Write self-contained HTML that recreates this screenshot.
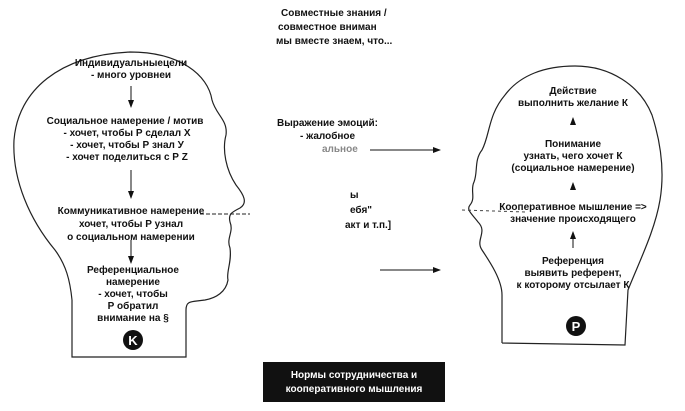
<!DOCTYPE html>
<html><head><meta charset="utf-8"><style>
html,body{margin:0;padding:0;background:#fff}
svg{display:block}
text{font-family:"Liberation Sans",sans-serif;font-weight:bold;font-size:10px;fill:#111}
</style></head><body>
<svg width="685" height="411" viewBox="0 0 685 411" xmlns="http://www.w3.org/2000/svg">
<defs><marker id="a" markerWidth="8" markerHeight="8" refX="7" refY="4" orient="auto" markerUnits="userSpaceOnUse"><path d="M0,1 L8,4 L0,7 z" fill="#111"/></marker></defs>
<g fill="none" stroke="#222" stroke-width="1.2">
<path d="M72,357 L72,300 C70,280 66,265 55,250 C30,220 12,180 14,140 C18,90 60,55 130,52 C180,52 208,75 212,100 C216,115 228,120 226,135 C222,150 226,170 236,185 C244,195 248,203 240,208 C232,212 228,214 230,222 C234,232 226,238 230,248 C232,262 226,272 228,280 C226,292 216,298 205,300 C192,302 186,300 186,310 L186,357 Z"/>
<path d="M502,343 L502,295 C502,280 490,262 482,250 C475,240 488,232 478,222 C472,214 466,210 470,205 C476,198 470,190 474,182 C478,172 474,160 482,150 C490,135 488,115 505,95 C520,75 545,66 575,66 C610,66 640,85 652,115 C660,140 665,170 660,200 C655,230 640,260 628,290 L625,345 L502,343"/>
</g>
<g stroke="#111" stroke-width="1" marker-end="url(#a)">
<line x1="131" y1="86" x2="131" y2="107"/>
<line x1="131" y1="170" x2="131" y2="198"/>
<line x1="131" y1="240" x2="131" y2="263"/>
<line x1="370" y1="150" x2="440" y2="150"/>
<line x1="380" y1="270" x2="440" y2="270"/>
<line x1="573" y1="124" x2="573" y2="118"/>
<line x1="573" y1="190" x2="573" y2="183"/>
<line x1="573" y1="248" x2="573" y2="232"/>
</g>
<line x1="200" y1="214" x2="250" y2="214" stroke="#222" stroke-dasharray="4,2"/>
<line x1="462" y1="210" x2="525" y2="212" stroke="#444" stroke-dasharray="3,3"/>
<g text-anchor="middle">
<text x="131" y="66">Индивидуальныецели</text>
<text x="131" y="78">- много уровнеи</text>
<text x="125" y="124">Социальное намерение / мотив</text>
<text x="127" y="136">- хочет, чтобы Р сделал Х</text>
<text x="127" y="148">- хочет, чтобы Р знал У</text>
<text x="127" y="160">- хочет поделиться с Р Z</text>
<text x="131" y="214">Коммуникативное намерение</text>
<text x="131" y="227">хочет, чтобы Р узнал</text>
<text x="131" y="240">о социальном намерении</text>
<text x="133" y="273">Референциальное</text>
<text x="133" y="285">намерение</text>
<text x="133" y="297">- хочет, чтобы</text>
<text x="133" y="309">Р обратил</text>
<text x="133" y="321">внимание на §</text>
<text x="573" y="94">Действие</text>
<text x="573" y="106">выполнить желание К</text>
<text x="573" y="147">Понимание</text>
<text x="573" y="159">узнать, чего хочет К</text>
<text x="573" y="171">(социальное намерение)</text>
<text x="573" y="210">Кооперативное мышление =&gt;</text>
<text x="573" y="222">значение происходящего</text>
<text x="573" y="264">Референция</text>
<text x="573" y="276">выявить референт,</text>
<text x="573" y="288">к которому отсылает К</text>
</g>
<text x="281" y="16">Совместные знания /</text>
<text x="278" y="30">совместное вниман</text>
<text x="276" y="44">мы вместе знаем, что...</text>
<text x="277" y="126">Выражение эмоций:</text>
<text x="300" y="139">- жалобное</text>
<text x="322" y="152" style="fill:#888">альное</text>
<text x="350" y="198">ы</text>
<text x="350" y="213">ебя"</text>
<text x="345" y="228">акт и т.п.]</text>
<circle cx="133" cy="340" r="10" fill="#111"/>
<text x="133" y="345" text-anchor="middle" style="fill:#fff;font-size:13px">K</text>
<circle cx="576" cy="326" r="10" fill="#111"/>
<text x="576" y="331" text-anchor="middle" style="fill:#fff;font-size:13px">P</text>
<rect x="263" y="362" width="182" height="40" fill="#111"/>
<text x="354" y="378" text-anchor="middle" style="fill:#fff">Нормы сотрудничества и</text>
<text x="354" y="392" text-anchor="middle" style="fill:#fff">кооперативного мышления</text>
</svg>
</body></html>
